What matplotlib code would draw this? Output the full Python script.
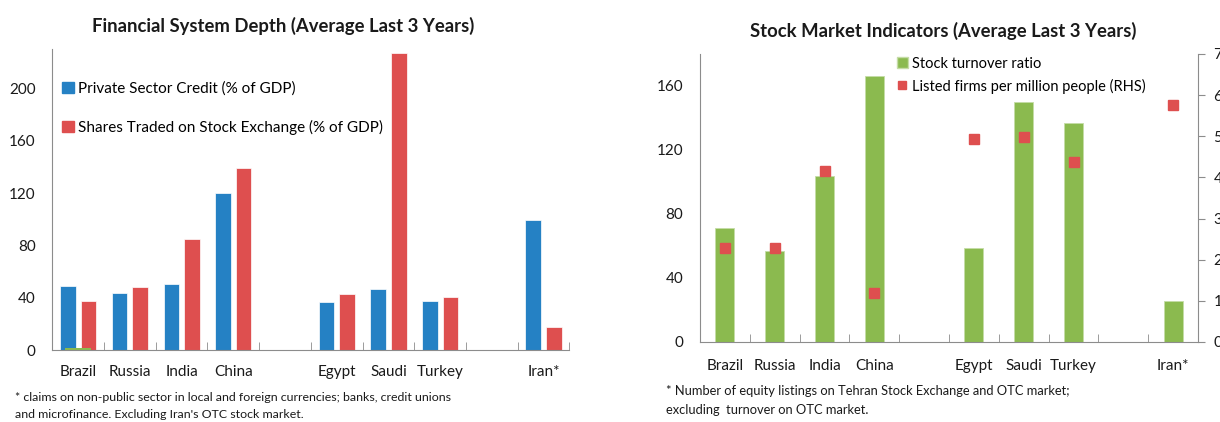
import numpy as np
import matplotlib
matplotlib.use("Agg")
import matplotlib.pyplot as plt
from matplotlib.patches import Patch
from matplotlib.lines import Line2D

plt.rcParams['font.family'] = ['Lato', 'DejaVu Sans']

# Datos (huecos = separadores entre grupos)
countries = ["Brazil", "Russia", "India", "China", "", "Egypt", "Saudi", "Turkey", "", "Iran*"]
private_credit = [49.2, 43.8, 50.2, 120.2, np.nan, 36.9, 46.4, 37.4, np.nan, 99.3]
shares_traded = [37.4, 47.9, 84.6, 139.3, np.nan, 42.5, 227.0, 40.5, np.nan, 17.3]
stray_green = [1.5, np.nan, np.nan, np.nan, np.nan, np.nan, np.nan, np.nan, np.nan, np.nan]
turnover = [71.4, 57.0, 104.0, 166.0, np.nan, 58.5, 150.0, 137.0, np.nan, 25.5]
listed_firms = [2.28, 2.28, 4.15, 1.18, np.nan, 4.93, 4.98, 4.37, np.nan, 5.75]

BLUE = "#2581C4"
RED = "#DE4F4F"
GREEN = "#8BBA4F"
GREY = "#8C8C8C"
TXT = "#1a1a1a"

x = np.arange(len(countries))

fig = plt.figure(figsize=(12.2, 4.22), dpi=100)


def style_axis(ax, xpad):
    for s in ["top", "right"]:
        ax.spines[s].set_visible(False)
    for s in ["left", "bottom"]:
        ax.spines[s].set_color(GREY)
    ax.set_xlim(-0.5, len(countries) - 0.5)
    ax.set_xticks(x)
    ax.set_xticklabels(countries, fontsize=11, color=TXT)
    ax.tick_params(axis="x", which="major", length=0, pad=xpad)
    ax.set_xticks(np.arange(0.5, len(countries), 1.0), minor=True)
    ax.tick_params(axis="x", which="minor", direction="in", length=6, color=GREY)
    ax.tick_params(axis="y", length=0, labelsize=11, labelcolor=TXT, pad=12)


# Grafico izquierdo
ax1 = fig.add_axes([0.0429, 0.1706, 0.4238, 0.713])
ax1.bar(x - 0.2, private_credit, width=0.3, color=BLUE, edgecolor="white", linewidth=0.5)
ax1.bar(x + 0.2, shares_traded, width=0.3, color=RED, edgecolor="white", linewidth=0.5)
ax1.bar(x, stray_green, width=0.5, color=GREEN, linewidth=0)
ax1.set_ylim(0, 230)
ax1.set_yticks([0, 40, 80, 120, 160, 200])
style_axis(ax1, 11)
ax1.legend(handles=[Patch(color=BLUE, label="Private Sector Credit (% of GDP)"),
                    Patch(color=RED, label="Shares Traded on Stock Exchange (% of GDP)")],
           loc="upper left", bbox_to_anchor=(0.051, 0.806), bbox_transform=fig.transFigure,
           frameon=False, fontsize=11, handlelength=0.75, handleheight=0.75,
           handletextpad=0.3, labelspacing=1.55, borderpad=0, borderaxespad=0)
fig.text(0.232, 0.938, "Financial System Depth (Average Last 3 Years)",
         ha="center", va="center", fontsize=13.3, fontweight="bold", color=TXT)
fig.text(0.012, 0.059, "* claims on non-public sector in local and foreign currencies; banks, credit unions",
         fontsize=8.9, color=TXT, va="center")
fig.text(0.012, 0.018, "and microfinance. Excluding Iran's OTC stock market.",
         fontsize=8.9, color=TXT, va="center")

# Grafico derecho
ax2 = fig.add_axes([0.5738, 0.1896, 0.4082, 0.6825])
ax2.bar(x, turnover, width=0.38, color=GREEN, edgecolor="#c5dca6", linewidth=0.6)
ax2.set_ylim(0, 180)
ax2.set_yticks([0, 40, 80, 120, 160])
style_axis(ax2, 12)
ax3 = ax2.twinx()
ax3.plot(x, listed_firms, linestyle="none", marker="s", markersize=6.5, color=RED)
ax3.set_ylim(0, 7)
ax3.set_yticks(range(8))
for s in ["top", "left", "bottom"]:
    ax3.spines[s].set_visible(False)
ax3.spines["right"].set_color(GREY)
ax3.tick_params(axis="y", direction="out", length=5, color=GREY, labelsize=11, labelcolor=TXT, pad=6)
ax3.legend(handles=[Patch(facecolor=GREEN, edgecolor="#c5dca6", label="Stock turnover ratio"),
                    Line2D([], [], linestyle="none", marker="s", markersize=6, color=RED,
                           label="Listed firms per million people (RHS)")],
           loc="upper left", bbox_to_anchor=(0.735, 0.866), bbox_transform=fig.transFigure,
           frameon=False, fontsize=10.5, handlelength=0.75, handleheight=0.75,
           handletextpad=0.3, labelspacing=0.55, borderpad=0, borderaxespad=0)
fig.text(0.773, 0.926, "Stock Market Indicators (Average Last 3 Years)",
         ha="center", va="center", fontsize=13.3, fontweight="bold", color=TXT)
fig.text(0.546, 0.074, "* Number of equity listings on Tehran Stock Exchange and OTC market;",
         fontsize=9.3, color=TXT, va="center")
fig.text(0.546, 0.028, "excluding  turnover on OTC market.",
         fontsize=9.3, color=TXT, va="center")

fig.savefig("out.png", dpi=100)
